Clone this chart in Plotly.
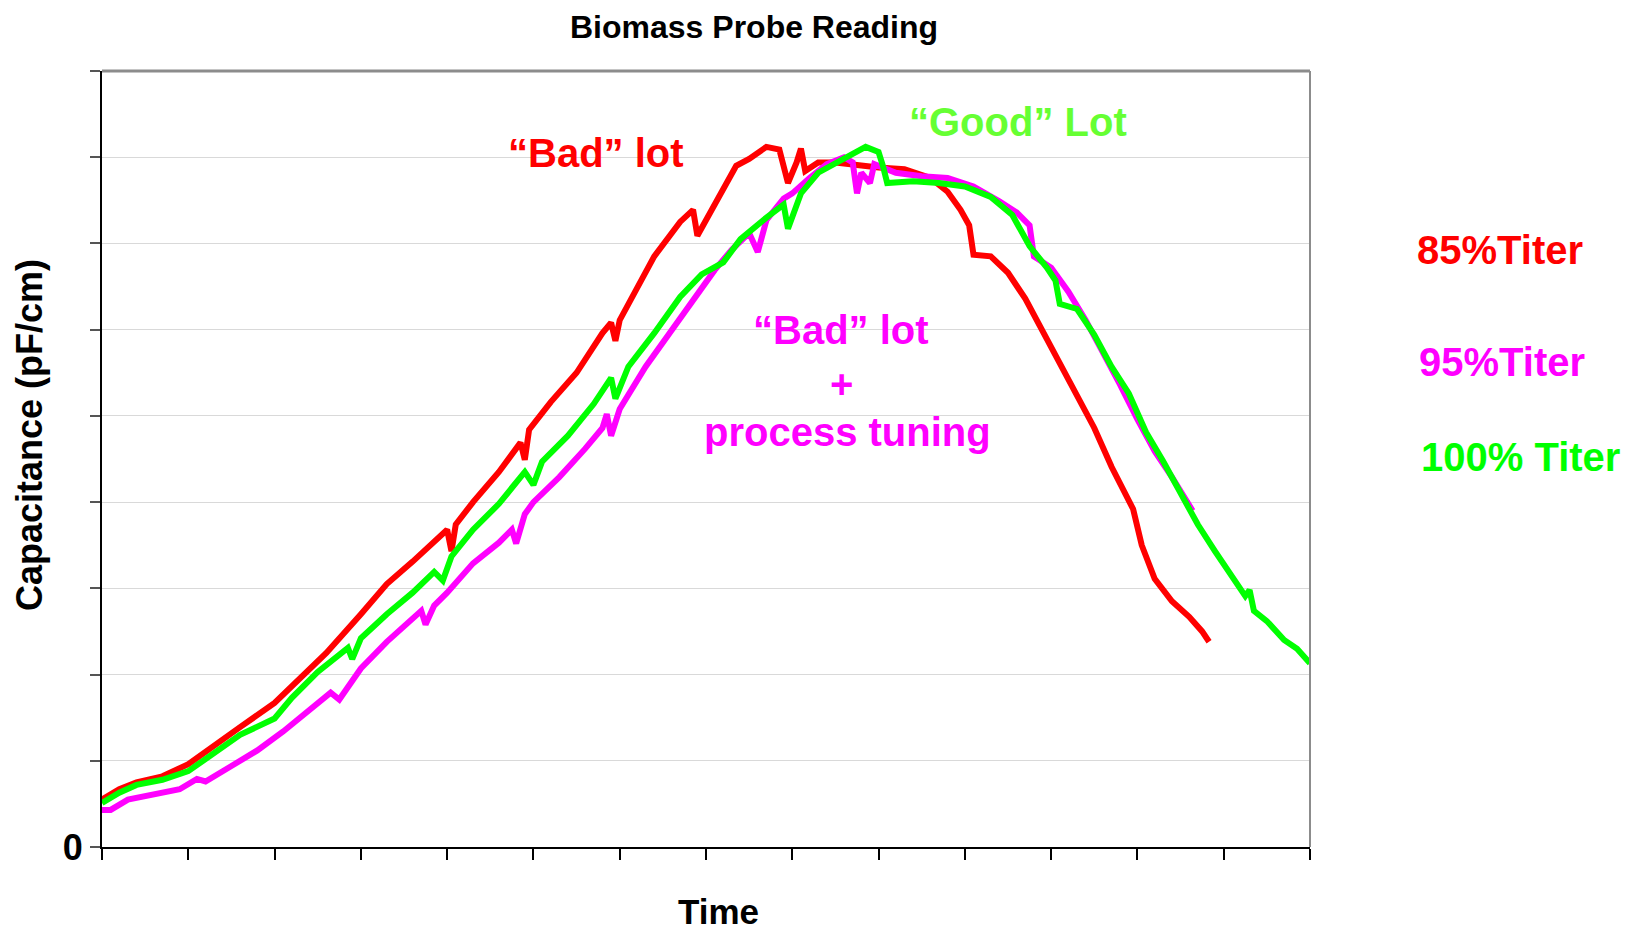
import plotly.graph_objects as go

# ---- data (arbitrary units, x = time grid units) ----
red_x = [0, 0.2, 0.4, 0.7, 1.0, 1.3, 1.6, 2.0, 2.3, 2.6, 3.0, 3.3, 3.6, 3.9, 4.0, 4.05, 4.1, 4.3, 4.6,
         4.85, 4.9, 4.95, 5.2, 5.5, 5.8, 5.9, 5.95, 6.0, 6.1, 6.4, 6.7, 6.85, 6.9, 7.0, 7.2, 7.35, 7.5,
         7.7, 7.85, 7.95, 8.05, 8.1, 8.15, 8.3, 8.5, 8.8, 9.0, 9.3, 9.6, 9.8, 9.95, 10.05, 10.1, 10.3,
         10.5, 10.7, 10.9, 11.1, 11.3, 11.5, 11.7, 11.85, 11.95, 12.05, 12.2, 12.4, 12.6, 12.75, 12.83]
red_y = [0.55, 0.67, 0.75, 0.82, 0.96, 1.18, 1.39, 1.67, 1.97, 2.25, 2.70, 3.05, 3.31, 3.58, 3.68, 3.43,
         3.74, 4.0, 4.35, 4.69, 4.49, 4.84, 5.16, 5.5, 5.96, 6.08, 5.87, 6.11, 6.3, 6.85, 7.25, 7.39, 7.09,
         7.27, 7.64, 7.9, 7.98, 8.12, 8.09, 7.7, 7.94, 8.1, 7.84, 7.94, 7.94, 7.9, 7.88, 7.86, 7.76, 7.6,
         7.39, 7.21, 6.87, 6.85, 6.66, 6.36, 5.99, 5.63, 5.26, 4.86, 4.41, 4.1, 3.92, 3.5, 3.11, 2.85,
         2.67, 2.5, 2.38]

mag_x = [0, 0.1, 0.3, 0.6, 0.9, 1.1, 1.2, 1.5, 1.8, 2.1, 2.4, 2.65, 2.75, 3.0, 3.3, 3.6, 3.7, 3.75,
         3.85, 4.0, 4.3, 4.6, 4.75, 4.8, 4.9, 5.0, 5.3, 5.6, 5.8, 5.85, 5.9, 6.0, 6.3, 6.6, 6.9, 7.1,
         7.3, 7.5, 7.6, 7.7, 7.9, 8.0, 8.2, 8.4, 8.6, 8.7, 8.75, 8.8, 8.9, 8.95, 9.2, 9.5, 9.8, 10.1,
         10.4, 10.6, 10.75, 10.8, 11.0, 11.2, 11.4, 11.6, 11.8, 12.0, 12.2, 12.4, 12.64]
mag_y = [0.43, 0.43, 0.55, 0.61, 0.67, 0.79, 0.76, 0.94, 1.12, 1.34, 1.58, 1.79, 1.71, 2.07, 2.38,
         2.64, 2.74, 2.58, 2.8, 2.95, 3.29, 3.53, 3.68, 3.52, 3.86, 4.0, 4.29, 4.62, 4.86, 5.02, 4.77,
         5.08, 5.57, 5.99, 6.42, 6.69, 6.93, 7.12, 6.9, 7.27, 7.52, 7.58, 7.76, 7.92, 8.0, 7.94, 7.58,
         7.82, 7.7, 7.92, 7.82, 7.78, 7.76, 7.66, 7.49, 7.36, 7.21, 6.85, 6.72, 6.44, 6.11, 5.75, 5.36,
         4.96, 4.59, 4.29, 3.9]

grn_x = [0, 0.2, 0.4, 0.7, 1.0, 1.3, 1.6, 2.0, 2.2, 2.5, 2.85, 2.9, 3.0, 3.3, 3.6, 3.85, 3.95, 4.05,
         4.3, 4.6, 4.9, 5.0, 5.1, 5.4, 5.7, 5.9, 5.95, 6.1, 6.4, 6.7, 6.95, 7.2, 7.4, 7.7, 7.9, 7.95,
         8.1, 8.3, 8.5, 8.7, 8.85, 9.0, 9.05, 9.1, 9.4, 9.7, 10.0, 10.3, 10.55, 10.75, 10.95, 11.05,
         11.1, 11.3, 11.5, 11.7, 11.9, 12.1, 12.3, 12.5, 12.7, 12.9, 13.1, 13.25, 13.3, 13.35, 13.5,
         13.7, 13.85, 14.0]
grn_y = [0.51, 0.63, 0.72, 0.78, 0.88, 1.08, 1.3, 1.49, 1.73, 2.03, 2.31, 2.18, 2.42, 2.7, 2.95, 3.19,
         3.09, 3.37, 3.68, 3.98, 4.35, 4.2, 4.47, 4.77, 5.14, 5.44, 5.2, 5.57, 5.96, 6.38, 6.64, 6.78,
         7.05, 7.3, 7.45, 7.17, 7.58, 7.82, 7.94, 8.04, 8.12, 8.06, 7.9, 7.7, 7.72, 7.7, 7.66, 7.54,
         7.33, 6.97, 6.72, 6.57, 6.3, 6.24, 5.94, 5.57, 5.26, 4.81, 4.47, 4.1, 3.74, 3.43, 3.15, 2.91,
         2.98, 2.74, 2.62, 2.4, 2.3, 2.13]

y_tickvals = [0, 1, 2, 3, 4, 5, 6, 7, 8, 9]
y_ticktext = ["<b>0</b>", "", "", "", "", "", "", "", "", ""]
x_tickvals = list(range(0, 15))

RED = "#FF0000"
MAG = "#FF00FF"
GRN = "#00FF00"
FONT = "Liberation Sans, Arial, sans-serif"

# page body has an 8px margin: figure is offset by (8, 8) in the screenshot
OFF = 8
W, H = 1645 - OFF, 934 - OFF

fig = go.Figure()
fig.add_trace(go.Scatter(x=red_x, y=red_y, mode="lines", line=dict(color=RED, width=6), name="85%Titer"))
fig.add_trace(go.Scatter(x=mag_x, y=mag_y, mode="lines", line=dict(color=MAG, width=6), name="95%Titer"))
fig.add_trace(go.Scatter(x=grn_x, y=grn_y, mode="lines", line=dict(color=GRN, width=6), name="100% Titer"))

fig.update_layout(
    width=W, height=H,
    margin=dict(l=102 - OFF, r=W - (1310 - OFF), t=71 - OFF, b=H - (847 - OFF), autoexpand=False),
    paper_bgcolor="white", plot_bgcolor="white",
    showlegend=False,
    font=dict(family=FONT, color="black"),
)
fig.update_xaxes(range=[0, 14], tickvals=x_tickvals, showticklabels=False, ticks="outside",
                 ticklen=11, tickwidth=2, tickcolor="black", showgrid=False, zeroline=False,
                 showline=True, linecolor="black", linewidth=2)
fig.update_yaxes(range=[0, 9], tickvals=y_tickvals, ticktext=y_ticktext, ticks="outside",
                 ticklen=10, tickwidth=2, tickcolor="#555555", showgrid=True, gridcolor="#d9d9d9",
                 gridwidth=1, zeroline=False, showline=True, linecolor="black", linewidth=2,
                 tickfont=dict(size=36, family=FONT, color="black"))

# top and right borders (grey)
fig.add_shape(type="line", xref="paper", yref="paper", x0=0, x1=1, y0=1, y1=1,
              line=dict(color="#8c8c8c", width=3))
fig.add_shape(type="line", xref="paper", yref="paper", x0=1, x1=1, y0=0, y1=1,
              line=dict(color="#8c8c8c", width=2))

def pap_x(px):
    return (px - 102) / 1208

def pap_y(py):
    return (847 - py) / 776

# chart title (placed as annotation so it sits just inside the top edge)
fig.add_annotation(text="<b>Biomass Probe Reading</b>", xref="paper", yref="paper",
                   x=pap_x(754), y=pap_y(8), xanchor="center", yanchor="top", showarrow=False,
                   borderpad=0, font=dict(size=32, color="black", family=FONT))

annos = [
    ("<b>“Bad” lot</b>", 596, 153, 40, RED, 0),
    ("<b>“Good” Lot</b>", 1018, 122, 40, "#66FF33", 0),
    ("<b>“Bad” lot</b>", 841, 330, 40, MAG, 0),
    ("<b>+</b>", 841, 384, 40, MAG, 0),
    ("<b>process tuning</b>", 847, 432, 40, MAG, 0),
    ("<b>85%Titer</b>", 1500, 250, 40, RED, 0),
    ("<b>95%Titer</b>", 1502, 362, 40, MAG, 0),
    ("<b>100% Titer</b>", 1520, 457, 40, GRN, 0),
]
for text, px, py, size, color, ang in annos:
    fig.add_annotation(text=text, xref="paper", yref="paper", x=pap_x(px), y=pap_y(py),
                       xanchor="center", yanchor="middle", showarrow=False, textangle=ang,
                       font=dict(size=size, color=color, family=FONT))

# axis titles
fig.add_annotation(text="<b>Time</b>", xref="paper", yref="paper", x=pap_x(718), y=pap_y(933),
                   xanchor="center", yanchor="bottom", showarrow=False,
                   font=dict(size=35, color="black", family=FONT))
fig.add_annotation(text="<b>Capacitance (pF/cm)</b>", xref="paper", yref="paper", x=pap_x(29),
                   y=pap_y(435), xanchor="center", yanchor="middle", showarrow=False, textangle=-90,
                   font=dict(size=36, color="black", family=FONT))

fig.write_html("out.html")
